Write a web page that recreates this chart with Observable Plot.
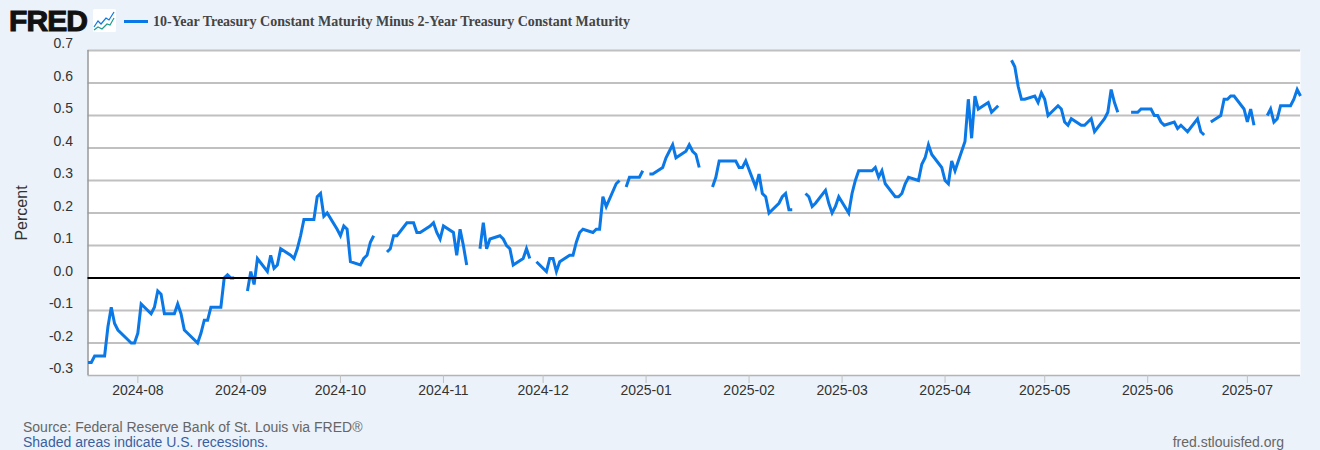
<!DOCTYPE html>
<html>
<head>
<meta charset="utf-8">
<script src="https://cdn.jsdelivr.net/npm/d3@7"></script>
<script src="https://cdn.jsdelivr.net/npm/@observablehq/plot@0.6"></script>
<style>
  html, body { margin: 0; padding: 0; background: #ebf2fa; }
  #page { position: relative; width: 1320px; height: 450px; overflow: hidden; background: #ebf2fa; font-family: "Liberation Sans", Arial, sans-serif; }
  #page > div { position: absolute; white-space: nowrap; }
  #chart { left: 0; top: 0; }
  #logo { left: 9px; top: 4px; font: 900 30px/34px "Liberation Sans", Arial, sans-serif; color: #111; letter-spacing: -0.9px; -webkit-text-stroke: 1.1px #111; }
  #icon { left: 93px; top: 9px; width: 23px; height: 23px; }
  #legendLine { left: 124px; top: 20px; width: 24px; height: 3px; background: #0a78e6; }
  #title { left: 153px; top: 14px; font: bold 14px/16px "Liberation Serif", "Times New Roman", serif; color: #444; }
  #source { left: 23px; top: 419px; font-size: 14px; line-height: 16px; color: #666; }
  #recess { left: 23px; top: 434px; font-size: 14px; line-height: 16px; color: #3a5f9f; }
  #site { right: 36px; top: 434px; font-size: 14px; line-height: 16px; color: #666; }
</style>
</head>
<body>
<div id="page">
  <div id="chart"></div>
  <div id="logo">FRED</div>
  <div id="icon"><svg width="23" height="23" viewBox="0 0 23 23"><rect width="23" height="23" rx="1.5" fill="#fff"/><polyline points="1,18 5,12 8,15 13,9 16,11 21,3" fill="none" stroke="#0a78e6" stroke-width="1.2"/><polyline points="1,21 5,18 9,20 14,15 17,16 21,9" fill="none" stroke="#1f9d8a" stroke-width="1.2"/></svg></div>
  <div id="legendLine"></div>
  <div id="title">10-Year Treasury Constant Maturity Minus 2-Year Treasury Constant Maturity</div>
  <div id="source">Source: Federal Reserve Bank of St. Louis via FRED®</div>
  <div id="recess">Shaded areas indicate U.S. recessions.</div>
  <div id="site">fred.stlouisfed.org</div>
</div>
<script>
const dates = [
"2024-07-17","2024-07-18","2024-07-19","2024-07-22","2024-07-23","2024-07-24","2024-07-25","2024-07-26","2024-07-29","2024-07-30","2024-07-31",
"2024-08-01","2024-08-02","2024-08-05","2024-08-06","2024-08-07","2024-08-08","2024-08-09","2024-08-12","2024-08-13","2024-08-14","2024-08-15","2024-08-16","2024-08-19","2024-08-20","2024-08-21","2024-08-22","2024-08-23","2024-08-26","2024-08-27","2024-08-28","2024-08-29","2024-08-30",
"2024-09-02","2024-09-03","2024-09-04","2024-09-05","2024-09-06","2024-09-09","2024-09-10","2024-09-11","2024-09-12","2024-09-13","2024-09-16","2024-09-17","2024-09-18","2024-09-19","2024-09-20","2024-09-23","2024-09-24","2024-09-25","2024-09-26","2024-09-27","2024-09-30",
"2024-10-01","2024-10-02","2024-10-03","2024-10-04","2024-10-07","2024-10-08","2024-10-09","2024-10-10","2024-10-11","2024-10-14","2024-10-15","2024-10-16","2024-10-17","2024-10-18","2024-10-21","2024-10-22","2024-10-23","2024-10-24","2024-10-25","2024-10-28","2024-10-29","2024-10-30","2024-10-31",
"2024-11-01","2024-11-04","2024-11-05","2024-11-06","2024-11-07","2024-11-08","2024-11-11","2024-11-12","2024-11-13","2024-11-14","2024-11-15","2024-11-18","2024-11-19","2024-11-20","2024-11-21","2024-11-22","2024-11-25","2024-11-26","2024-11-27","2024-11-28","2024-11-29",
"2024-12-02","2024-12-03","2024-12-04","2024-12-05","2024-12-06","2024-12-09","2024-12-10","2024-12-11","2024-12-12","2024-12-13","2024-12-16","2024-12-17","2024-12-18","2024-12-19","2024-12-20","2024-12-23","2024-12-24","2024-12-25","2024-12-26","2024-12-27","2024-12-30","2024-12-31",
"2025-01-01","2025-01-02","2025-01-03","2025-01-06","2025-01-07","2025-01-08","2025-01-09","2025-01-10","2025-01-13","2025-01-14","2025-01-15","2025-01-16","2025-01-17","2025-01-20","2025-01-21","2025-01-22","2025-01-23","2025-01-24","2025-01-27","2025-01-28","2025-01-29","2025-01-30","2025-01-31",
"2025-02-03","2025-02-04","2025-02-05","2025-02-06","2025-02-07","2025-02-10","2025-02-11","2025-02-12","2025-02-13","2025-02-14","2025-02-17","2025-02-18","2025-02-19","2025-02-20","2025-02-21","2025-02-24","2025-02-25","2025-02-26","2025-02-27","2025-02-28",
"2025-03-03","2025-03-04","2025-03-05","2025-03-06","2025-03-07","2025-03-10","2025-03-11","2025-03-12","2025-03-13","2025-03-14","2025-03-17","2025-03-18","2025-03-19","2025-03-20","2025-03-21","2025-03-24","2025-03-25","2025-03-26","2025-03-27","2025-03-28","2025-03-31",
"2025-04-01","2025-04-02","2025-04-03","2025-04-04","2025-04-07","2025-04-08","2025-04-09","2025-04-10","2025-04-11","2025-04-14","2025-04-15","2025-04-16","2025-04-17","2025-04-18","2025-04-21","2025-04-22","2025-04-23","2025-04-24","2025-04-25","2025-04-28","2025-04-29","2025-04-30",
"2025-05-01","2025-05-02","2025-05-05","2025-05-06","2025-05-07","2025-05-08","2025-05-09","2025-05-12","2025-05-13","2025-05-14","2025-05-15","2025-05-16","2025-05-19","2025-05-20","2025-05-21","2025-05-22","2025-05-23","2025-05-26","2025-05-27","2025-05-28","2025-05-29","2025-05-30",
"2025-06-02","2025-06-03","2025-06-04","2025-06-05","2025-06-06","2025-06-09","2025-06-10","2025-06-11","2025-06-12","2025-06-13","2025-06-16","2025-06-17","2025-06-18","2025-06-19","2025-06-20","2025-06-23","2025-06-24","2025-06-25","2025-06-26","2025-06-27","2025-06-30",
"2025-07-01","2025-07-02","2025-07-03","2025-07-04","2025-07-07","2025-07-08","2025-07-09","2025-07-10","2025-07-11","2025-07-14","2025-07-15","2025-07-16","2025-07-17"
];
const spread = [
-0.26,-0.26,-0.24,-0.24,-0.15,-0.09,-0.14,-0.16,-0.19,-0.20,-0.20,
-0.17,-0.08,-0.11,-0.09,-0.04,-0.05,-0.11,-0.11,-0.08,-0.11,-0.16,-0.17,-0.20,-0.17,-0.13,-0.13,-0.09,-0.09,0.00,0.01,0.00,0.00,
null,-0.04,0.02,-0.02,0.06,0.02,0.07,0.03,0.04,0.09,0.07,0.06,0.09,0.13,0.18,0.18,0.25,0.26,0.19,0.20,0.15,
0.13,0.16,0.15,0.05,0.04,0.06,0.07,0.11,0.13,null,0.08,0.09,0.13,0.13,0.17,0.17,0.17,0.14,0.14,0.16,0.17,0.14,0.12,
0.16,0.14,0.07,0.15,0.10,0.04,null,0.09,0.17,0.09,0.12,0.13,0.12,0.10,0.09,0.04,0.06,0.09,0.06,null,0.05,
0.02,0.06,0.06,0.02,0.05,0.07,0.07,0.11,0.14,0.15,0.14,0.15,0.15,0.25,0.22,0.29,0.30,null,0.28,0.31,0.31,0.33,
null,0.32,0.32,0.34,0.37,0.39,0.41,0.37,0.39,0.41,0.39,0.38,0.34,null,0.28,0.31,0.36,0.36,0.36,0.36,0.34,0.34,0.36,
0.28,0.32,0.26,0.25,0.20,0.23,0.25,0.26,0.21,0.21,null,0.26,0.25,0.22,0.23,0.27,0.23,0.20,0.22,0.25,
0.20,0.26,0.30,0.33,0.33,0.33,0.34,0.31,0.33,0.29,0.25,0.25,0.26,0.29,0.31,0.30,0.35,0.37,0.41,0.38,0.34,
0.30,0.29,0.36,0.33,0.42,0.55,0.43,0.56,0.52,0.54,0.51,0.52,0.53,null,0.67,0.65,0.59,0.55,0.55,0.56,0.54,0.57,
0.55,0.50,0.53,0.52,0.48,0.47,0.49,0.47,0.47,0.48,0.49,0.45,0.49,0.51,0.58,0.54,0.51,null,0.51,0.51,0.51,0.52,
0.52,0.50,0.50,0.48,0.47,0.48,0.46,0.47,0.46,0.45,0.49,0.45,0.44,null,0.48,0.50,0.55,0.55,0.56,0.56,0.52,
0.48,0.52,0.47,null,0.50,0.52,0.48,0.49,0.53,0.53,0.55,0.58,0.56
];
const xStart = "2024-07-17";
const xEnd = "2025-07-17";
const monthTicks = ["2024-08-01","2024-09-01","2024-10-01","2024-11-01","2024-12-01","2025-01-01","2025-02-01","2025-03-01","2025-04-01","2025-05-01","2025-06-01","2025-07-01"];
const yTicks = [-0.3,-0.2,-0.1,0,0.1,0.2,0.3,0.4,0.5,0.6,0.7];
const gridTicks = [-0.2,-0.1,0.1,0.2,0.3,0.4,0.5,0.6,0.7];

const table = dates.map((d, i) => ({date: new Date(d), value: spread[i]}));
const sans = '"Liberation Sans", Arial, sans-serif';

const chart = Plot.plot({
  width: 1320,
  height: 450,
  marginLeft: 87.5,
  marginRight: 20,
  marginTop: 50,
  marginBottom: 75,
  style: {background: "transparent", fontFamily: sans, fontSize: "14px", color: "#333"},
  x: {type: "utc", domain: [new Date(xStart), new Date(xEnd)], label: null},
  y: {domain: [-0.3, 0.7], label: null},
  marks: [
    Plot.frame({fill: "#fff", stroke: null}),
    Plot.ruleY(gridTicks, {stroke: "#c0c0c0", strokeWidth: 2}),
    Plot.ruleY([-0.3], {stroke: "#b4b4b4", strokeWidth: 1.5}),
    Plot.ruleX([new Date(xStart)], {stroke: "#999", strokeWidth: 1.5}),
    Plot.axisX({
      ticks: monthTicks.map(d => new Date(d)),
      tickFormat: d3.utcFormat("%Y-%m"),
      tickSize: 8,
      tickPadding: 2,
      stroke: "#c0c0c0",
      fill: "#333",
      fontSize: 14,
      label: null
    }),
    Plot.axisY({
      ticks: yTicks,
      tickFormat: d => d.toFixed(1),
      tickSize: 0,
      tickPadding: 15,
      dy: -6.5,
      fill: "#333",
      fontSize: 14,
      label: null
    }),
    Plot.text(["Percent"], {frameAnchor: "left", textAnchor: "middle", dx: -66, rotate: -90, fontSize: 16, fill: "#333"}),
    Plot.line(table, {
      x: "date",
      y: "value",
      stroke: "#0a78e6",
      strokeWidth: 3,
      strokeLinejoin: "miter",
      strokeLinecap: "butt",
      strokeMiterlimit: 4
    }),
    Plot.ruleY([0], {stroke: "#000", strokeWidth: 2})
  ]
});
document.getElementById("chart").appendChild(chart);
</script>
</body>
</html>
